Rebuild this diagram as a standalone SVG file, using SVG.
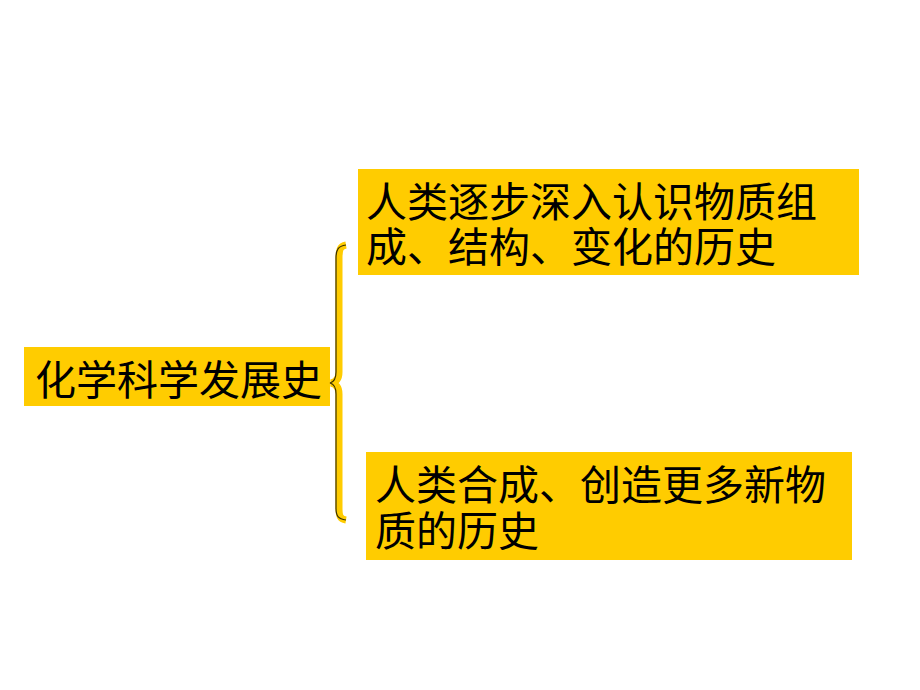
<svg xmlns="http://www.w3.org/2000/svg" width="920" height="690" viewBox="0 0 920 690">
<style>
.box{fill:#FFCC00;}
.t{font-family:"Noto Sans CJK SC","Noto Sans CJK JP",sans-serif;font-size:41px;fill:#000;}
</style>
<rect width="920" height="690" fill="#fff"/>
<g id="root">
<rect class="box" x="24" y="347" width="306" height="59"/>
<text class="t" x="35" y="395">化学科学发展史</text>
</g>
<g id="connectors">
<path d="M346,245 C340,246 339,250 339,258 L339,372 C339,379 336,382 331,383 C336,384 339,387 339,394 L339,508 C339,516 340,519 346,520" fill="none" stroke="#FFCC00" stroke-width="7"/>
<path d="M346,245 C338,246 336,250 336,258 L336,372 C336,379 334,382 330,383 C334,384 336,387 336,394 L336,508 C336,516 338,519 346,520" fill="none" stroke="#3a3000" stroke-width="1.2"/>
</g>
<g id="top">
<rect class="box" x="358" y="169" width="501" height="106"/>
<text class="t"><tspan x="366" y="217">人类逐步深入认识物质组</tspan><tspan x="366" y="262">成、结构、变化的历史</tspan></text>
</g>
<g id="bottom">
<rect class="box" x="366" y="452" width="486" height="108"/>
<text class="t"><tspan x="375" y="500">人类合成、创造更多新物</tspan><tspan x="375" y="546">质的历史</tspan></text>
</g>
</svg>
